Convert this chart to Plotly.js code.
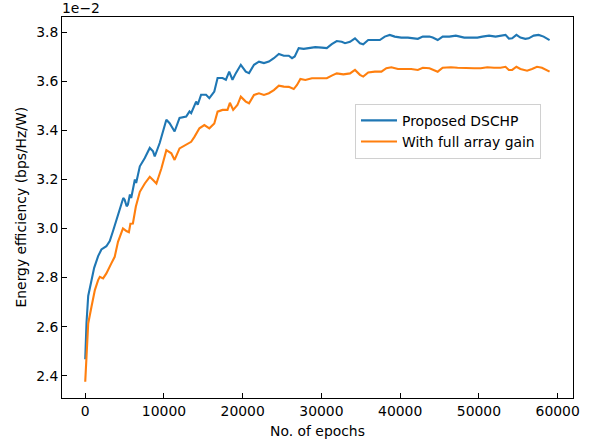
<!DOCTYPE html>
<html>
<head>
<meta charset="utf-8">
<script src="https://cdn.plot.ly/plotly-3.0.1.min.js"></script>
<style>html,body{margin:0;padding:0;background:#fff;}#chart{width:590px;height:442px;}</style>
</head>
<body>
<div id="chart"></div>
<script>
// Values in units of 1e-2 (bps/Hz/W)
const epochsA = [0,164,378,794,1135,1639,2056,2686,3115,3531,4162,4414,4577,4830,5006,5258,5422,5675,5840,6305,6469,6936,7566,8197,8613,8827,9458,10303,10719,11349,11980,12824,13241,13455,13657,14085,14287,14716,15346,15763,16393,16809,17440,17869,18285,18701,19130,19760,20391,20807,21437,22068,22698,23329,23959,24590,25220,25851,26267,26608,27112,27743,28373,29218,30050,30681,31311,31942,32572,33001,33631,34262,34892,35308,35939,36784,37414,38045,38675,39306,40138,40983,41828,42244,42874,43719,44135,44766,45396,46241,47073,48132,48964,49810,50440,51285,52117,52962,53378,53807,54223,54765,55270,55900,56329,56959,57590,58220,58977];
const proposedDSCHP = [2.467,2.617,2.725,2.793,2.84,2.888,2.915,2.928,2.949,2.99,3.05,3.078,3.098,3.125,3.118,3.091,3.098,3.139,3.125,3.2,3.186,3.254,3.288,3.329,3.315,3.294,3.349,3.444,3.43,3.396,3.451,3.457,3.478,3.471,3.485,3.518,3.505,3.546,3.546,3.532,3.559,3.614,3.614,3.607,3.64,3.607,3.634,3.668,3.64,3.634,3.668,3.681,3.675,3.681,3.695,3.712,3.705,3.705,3.695,3.702,3.736,3.733,3.736,3.74,3.738,3.736,3.752,3.765,3.762,3.756,3.762,3.776,3.756,3.752,3.769,3.769,3.769,3.783,3.79,3.783,3.779,3.779,3.776,3.774,3.783,3.783,3.779,3.769,3.783,3.783,3.787,3.779,3.779,3.779,3.783,3.787,3.783,3.787,3.79,3.775,3.776,3.79,3.779,3.774,3.776,3.787,3.79,3.783,3.769];

const epochsB = [0,164,378,794,1223,1639,1854,2270,2686,3316,3745,4162,4414,4792,5233,5548,5738,6053,6431,6936,7566,8197,8613,9041,9672,10303,10933,11349,11980,12824,13455,13871,14502,15132,15763,16393,16809,17440,18070,18373,18789,19331,19760,20391,20807,21437,22068,22698,23329,23959,24590,25220,25851,26482,26898,27326,27957,28789,29634,30681,31311,31942,32786,33631,34262,34892,35308,35939,36784,37616,38247,38877,39722,40567,41399,42244,42874,43719,44350,44766,45396,46443,47288,48334,49393,50226,51071,51916,52748,53378,53807,54223,54765,55270,56115,56745,57376,58006,58977];
const fullArrayGain = [2.375,2.477,2.613,2.681,2.749,2.79,2.803,2.797,2.817,2.858,2.885,2.946,2.97,3.001,2.99,2.985,3.02,3.021,3.09,3.15,3.184,3.211,3.198,3.184,3.245,3.32,3.307,3.28,3.327,3.341,3.354,3.374,3.409,3.422,3.409,3.429,3.477,3.484,3.484,3.513,3.484,3.504,3.538,3.518,3.511,3.545,3.552,3.545,3.552,3.565,3.583,3.579,3.578,3.569,3.586,3.61,3.606,3.613,3.613,3.613,3.624,3.633,3.629,3.633,3.647,3.627,3.62,3.637,3.64,3.64,3.654,3.658,3.651,3.651,3.651,3.647,3.656,3.654,3.647,3.64,3.656,3.658,3.656,3.654,3.654,3.654,3.658,3.656,3.656,3.66,3.647,3.647,3.66,3.651,3.644,3.651,3.66,3.656,3.64];

const seriesNames = ["Proposed DSCHP", "With full array gain"];
const xTicks = [0,10000,20000,30000,40000,50000,60000];
const yTicks = [2.4,2.6,2.8,3.0,3.2,3.4,3.6,3.8];
const yTickText = ["2.4","2.6","2.8","3.0","3.2","3.4","3.6","3.8"];

const FONT = "DejaVu Sans, Verdana, sans-serif";
const FS = 13.9;
const traces = [
  {x: epochsA, y: proposedDSCHP, name: seriesNames[0], type: "scatter", mode: "lines",
   line: {color: "#1f77b4", width: 2.1}},
  {x: epochsB, y: fullArrayGain, name: seriesNames[1], type: "scatter", mode: "lines",
   line: {color: "#ff7f0e", width: 2.1}}
];
const axisCommon = {
  showline: true, linecolor: "#000", linewidth: 1, mirror: true,
  ticks: "inside", ticklen: 4.9, tickwidth: 1, tickcolor: "#000",
  showgrid: false, zeroline: false,
  tickfont: {family: FONT, size: FS, color: "#000"}
};
const layout = {
  width: 590, height: 442,
  margin: {l: 62, r: 17, t: 17, b: 44},
  paper_bgcolor: "#fff", plot_bgcolor: "#fff",
  font: {family: FONT, size: FS, color: "#000"},
  showlegend: true,
  legend: {x: 0.5734, y: 0.772, xanchor: "left", yanchor: "top",
           itemwidth: 36, entrywidth: 142, entrywidthmode: "pixels",
           bgcolor: "rgba(255,255,255,0.8)", bordercolor: "#d0d0d0", borderwidth: 1,
           font: {family: FONT, size: FS, color: "#000"}},
  xaxis: Object.assign({}, axisCommon, {
    range: [-2950, 61950], tickvals: xTicks, ticktext: xTicks.map(String),
    title: {text: "No. of epochs", font: {family: FONT, size: FS, color: "#000"}, standoff: 8}
  }),
  yaxis: Object.assign({}, axisCommon, {
    range: [2.309, 3.863], tickvals: yTicks, ticktext: yTickText
  }),
  annotations: [{
    text: "1e\u22122", xref: "paper", yref: "paper", x: 0, y: 1,
    xanchor: "left", yanchor: "bottom", xshift: -2, yshift: -1, showarrow: false,
    font: {family: FONT, size: FS, color: "#000"}
  }, {
    text: "Energy efficiency (bps/Hz/W)", xref: "paper", yref: "paper", x: 0, y: 0.5,
    xanchor: "center", yanchor: "middle", xshift: -42, textangle: -90, showarrow: false,
    font: {family: FONT, size: FS, color: "#000"}
  }]
};
Plotly.newPlot("chart", traces, layout, {displayModeBar: false, staticPlot: true});
</script>
</body>
</html>
